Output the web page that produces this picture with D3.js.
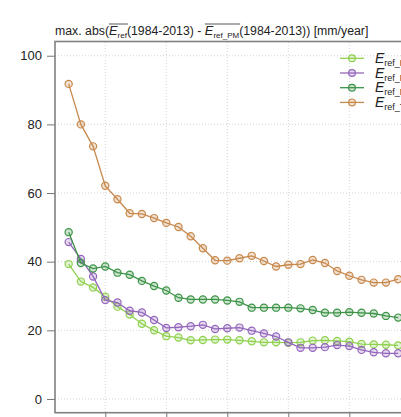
<!DOCTYPE html>
<html>
<head>
<meta charset="utf-8">
<script src="https://cdn.jsdelivr.net/npm/d3@7"></script>
<style>
  html, body { margin: 0; padding: 0; background: #fff; }
  svg { display: block; font-family: "Liberation Sans", Arial, sans-serif; }
</style>
</head>
<body>
<svg id="chart" width="401" height="417"></svg>
<script>
(function () {
  "use strict";

  // window lengths (years), one point per value
  const years = d3.range(2, 30);

  const lightGreen = [39.3, 34.2, 32.5, 29.8, 26.9, 24.6, 21.9, 20.0, 18.3, 17.9, 17.1, 17.2, 17.3, 17.3, 17.1,
    16.8, 16.5, 16.5, 16.4, 16.5, 17.0, 17.1, 16.9, 16.7, 16.0, 15.9, 15.8, 15.6];
  const purple = [45.7, 40.8, 35.7, 28.8, 28.1, 25.7, 25.2, 23.0, 20.7, 20.9, 21.2, 21.6, 20.4, 20.6, 20.8,
    19.9, 19.1, 18.2, 16.5, 14.9, 14.9, 15.1, 15.7, 15.4, 14.3, 13.6, 13.3, 13.3];
  const darkGreen = [48.6, 39.6, 38.0, 38.6, 36.8, 36.2, 34.4, 32.9, 31.6, 29.5, 29.0, 29.0, 29.0, 28.7, 28.3,
    26.6, 26.6, 26.6, 26.6, 26.4, 25.9, 25.1, 25.1, 25.3, 25.1, 24.9, 24.2, 23.7];
  const orange = [91.8, 80.0, 73.6, 62.1, 58.2, 54.1, 53.9, 52.7, 51.3, 50.1, 47.4, 43.9, 40.4, 40.3, 41.0,
    41.7, 40.2, 38.6, 39.1, 39.3, 40.5, 39.6, 37.3, 35.9, 34.7, 33.9, 33.9, 34.9];

  const seriesNames = ["ref_HS", "ref_PT", "ref_MK", "ref_TW"];
  const seriesValues = [lightGreen, purple, darkGreen, orange];
  const colors = ["#8fd14f", "#9467bd", "#3d9447", "#c8894d"];

  const yTicks = [0, 20, 40, 60, 80, 100];
  const xTicks = [5, 10, 15, 20, 25, 30];

  const svg = d3.select("#chart");

  const x = d3.scaleLinear().domain([0.88, 31.12]).range([55, 424]);
  const y = d3.scaleLinear().domain([-4, 104]).range([412.7, 42]);

  // grid
  const grid = svg.append("g").attr("class", "grid");
  grid.selectAll("line.h").data(yTicks).join("line")
    .attr("x1", 55).attr("x2", 424)
    .attr("y1", (d) => y(d)).attr("y2", (d) => y(d))
    .attr("stroke", "#d4d4d4").attr("stroke-dasharray", "1,2");
  grid.selectAll("line.v").data(xTicks).join("line")
    .attr("y1", 42).attr("y2", 412.7)
    .attr("x1", (d) => x(d)).attr("x2", (d) => x(d))
    .attr("stroke", "#d4d4d4").attr("stroke-dasharray", "1,2");

  // series
  const line = d3.line().x((d, i) => x(years[i])).y((d) => y(d));
  seriesValues.forEach((vals, k) => {
    const g = svg.append("g").attr("class", "series");
    g.append("path")
      .datum(vals)
      .attr("d", line)
      .attr("fill", "none")
      .attr("stroke", colors[k])
      .attr("stroke-width", 1.3);
    g.selectAll("circle").data(vals).join("circle")
      .attr("cx", (d, i) => x(years[i]))
      .attr("cy", (d) => y(d))
      .attr("r", 3.6)
      .attr("fill", colors[k]).attr("fill-opacity", 0.25)
      .attr("stroke", colors[k]).attr("stroke-width", 1.2);
  });

  // axes (box)
  const yAxis = d3.axisLeft(y).tickValues(yTicks).tickSize(8).tickPadding(5);
  const ya = svg.append("g").attr("transform", "translate(55,0)").call(yAxis);
  ya.select(".domain").remove();
  ya.selectAll(".tick line").attr("stroke", "#777");
  ya.selectAll(".tick text").attr("font-size", 13).attr("fill", "#222")
    .attr("font-family", "Liberation Sans, Arial, sans-serif");

  // x tick labels fall below the visible area, so only the marks are drawn
  const xAxis = d3.axisBottom(x).tickValues(xTicks).tickSize(6).tickFormat("");
  const xa = svg.append("g").attr("transform", "translate(0,412.7)").call(xAxis);
  xa.select(".domain").remove();
  xa.selectAll(".tick line").attr("stroke", "#777");

  svg.append("rect")
    .attr("x", 55).attr("y", 41.5).attr("width", 420).attr("height", 371.2)
    .attr("fill", "none").attr("stroke", "#808080").attr("stroke-width", 1.6);

  // text pieces laid out one after another
  function seq(parent, x0, baseline, parts) {
    let cx = x0;
    parts.forEach((p) => {
      const t = parent.append("text")
        .attr("x", cx).attr("y", baseline + (p.dy || 0))
        .attr("xml:space", "preserve")
        .style("white-space", "pre")
        .attr("font-size", p.size)
        .attr("font-style", p.italic ? "italic" : "normal")
        .attr("fill", "#222")
        .text(p.text);
      p.x0 = cx;
      cx += t.node().getComputedTextLength();
      p.x1 = cx;
    });
    return cx;
  }

  const title = svg.append("g").attr("class", "title");
  const tparts = [
    { text: "max. abs(", size: 12.3 },
    { text: "E", size: 12.8, italic: true },
    { text: "ref", size: 8, dy: 3 },
    { text: "(1984-2013) - ", size: 12.3 },
    { text: "E", size: 12.8, italic: true },
    { text: "ref_PM", size: 8, dy: 3 },
    { text: "(1984-2013)) [mm/year]", size: 12.3 },
  ];
  seq(title, 55, 35, tparts);
  [[1, 2], [4, 5]].forEach(([a, b]) => {
    title.append("line")
      .attr("x1", tparts[a].x0).attr("x2", tparts[b].x1 + 1)
      .attr("y1", 24).attr("y2", 24)
      .attr("stroke", "#444").attr("stroke-width", 0.9);
  });

  // legend
  const legend = svg.append("g").attr("class", "legend");
  seriesNames.forEach((name, k) => {
    const ly = 58.3 + k * 14.7;
    legend.append("line")
      .attr("x1", 340).attr("x2", 364).attr("y1", ly).attr("y2", ly)
      .attr("stroke", colors[k]).attr("stroke-width", 1.3);
    legend.append("circle")
      .attr("cx", 352).attr("cy", ly).attr("r", 3.4)
      .attr("fill", colors[k]).attr("fill-opacity", 0.25)
      .attr("stroke", colors[k]).attr("stroke-width", 1.2);
    seq(legend, 375, ly + 4.5, [
      { text: "E", size: 14, italic: true },
      { text: name, size: 9, dy: 3 },
    ]);
  });
})();
</script>
</body>
</html>
